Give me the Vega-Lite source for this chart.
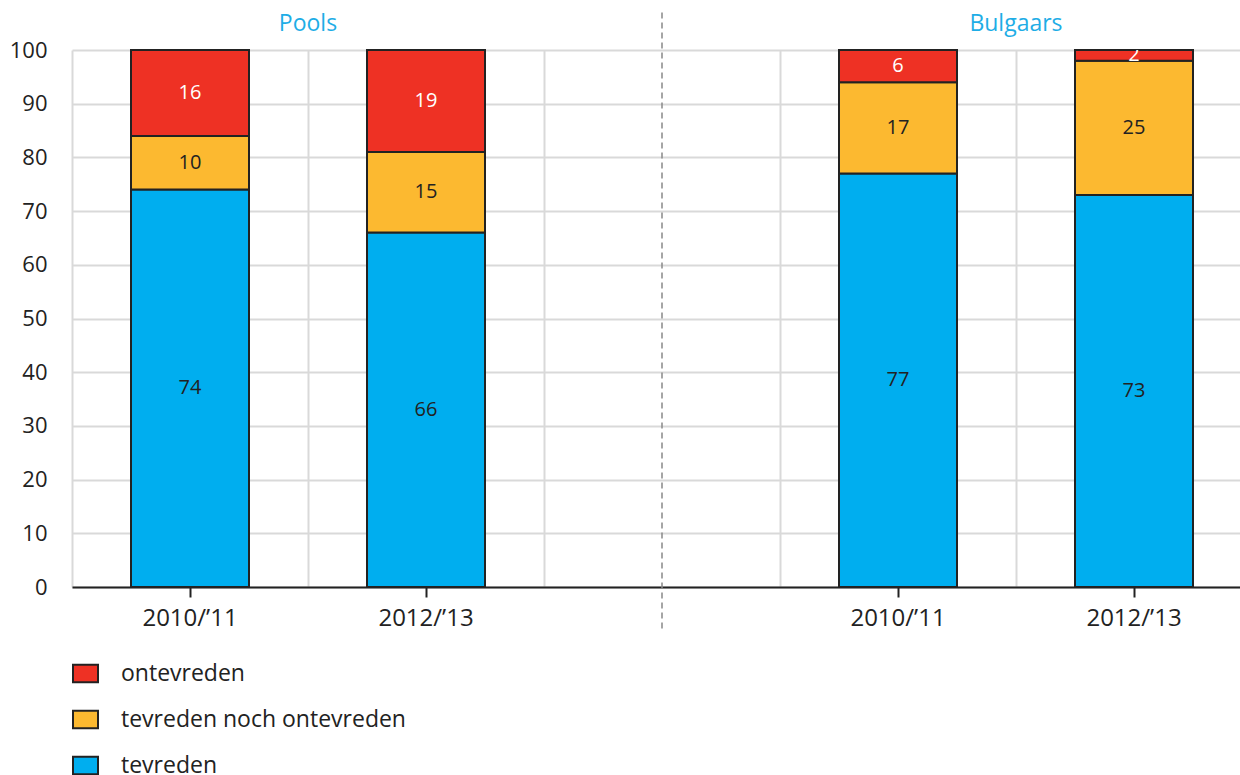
{
  "$schema": "https://vega.github.io/schema/vega-lite/v6.json",
  "width": 1168,
  "height": 537,
  "autosize": "none",
  "padding": {"left": 72, "top": 50, "right": 0, "bottom": 188},
  "background": "white",
  "config": {"font": "Open Sans", "view": {"stroke": null}},
  "datasets": {
    "answers": [
      {"slot": "Pools|2010/’11", "answer": "tevreden", "k": 0, "value": 74},
      {"slot": "Pools|2010/’11", "answer": "tevreden noch ontevreden", "k": 1, "value": 10},
      {"slot": "Pools|2010/’11", "answer": "ontevreden", "k": 2, "value": 16},
      {"slot": "Pools|2012/’13", "answer": "tevreden", "k": 0, "value": 66},
      {"slot": "Pools|2012/’13", "answer": "tevreden noch ontevreden", "k": 1, "value": 15},
      {"slot": "Pools|2012/’13", "answer": "ontevreden", "k": 2, "value": 19},
      {"slot": "Bulgaars|2010/’11", "answer": "tevreden", "k": 0, "value": 77},
      {"slot": "Bulgaars|2010/’11", "answer": "tevreden noch ontevreden", "k": 1, "value": 17},
      {"slot": "Bulgaars|2010/’11", "answer": "ontevreden", "k": 2, "value": 6},
      {"slot": "Bulgaars|2012/’13", "answer": "tevreden", "k": 0, "value": 73},
      {"slot": "Bulgaars|2012/’13", "answer": "tevreden noch ontevreden", "k": 1, "value": 25},
      {"slot": "Bulgaars|2012/’13", "answer": "ontevreden", "k": 2, "value": 2}
    ],
    "groups": [
      {"slot": "Pools|2012/’13", "name": "Pools"},
      {"slot": "Bulgaars|2012/’13", "name": "Bulgaars"}
    ]
  },
  "resolve": {"axis": {"x": "independent"}},
  "layer": [
    {
      "data": {"name": "answers"},
      "mark": {"type": "bar", "width": {"band": 0.5}, "stroke": "#222", "strokeWidth": 2},
      "encoding": {
        "x": {
          "field": "slot", "type": "nominal",
          "scale": {"domain": ["Pools|2010/’11", "Pools|2012/’13", "gap", "Bulgaars|2010/’11", "Bulgaars|2012/’13"], "range": [0, 1180], "paddingInner": 0, "paddingOuter": 0},
          "axis": {"orient": "bottom", "title": null, "labels": false, "ticks": false, "grid": true, "bandPosition": 0, "gridColor": "#d9d9d9", "gridWidth": 2, "domain": true, "domainColor": "#222", "domainWidth": 2, "zindex": 0}
        },
        "y": {
          "field": "value", "type": "quantitative", "stack": "zero",
          "scale": {"domain": [0, 100], "nice": false},
          "axis": {"title": null, "orient": "left", "values": [0, 10, 20, 30, 40, 50, 60, 70, 80, 90, 100], "ticks": false, "domain": false, "grid": true, "gridColor": "#d9d9d9", "gridWidth": 2, "labelPadding": 25, "labelFontSize": 22, "labelColor": "#222", "labelFont": "Open Sans", "zindex": 0}
        },
        "order": {"field": "k", "type": "quantitative"},
        "color": {
          "field": "answer", "type": "nominal",
          "scale": {"domain": ["ontevreden", "tevreden noch ontevreden", "tevreden"], "range": ["#ee3124", "#fcb930", "#00aeef"]},
          "legend": {
            "orient": "none", "legendX": 0, "legendY": 610, "title": null, "padding": 0,
            "symbolType": "M-1,-0.7H1V0.7H-1Z", "symbolSize": 625, "symbolStrokeColor": "#222", "symbolStrokeWidth": 2, "symbolOpacity": 1,
            "labelFontSize": 23, "labelColor": "#222", "labelFont": "Open Sans", "labelOffset": 22, "labelLimit": 500, "rowPadding": 19
          }
        }
      }
    },
    {
      "data": {"name": "answers"},
      "transform": [
        {"stack": "value", "groupby": ["slot"], "sort": [{"field": "k"}], "as": ["y0", "y1"]},
        {"fold": ["y0", "y1"], "as": ["edge", "edgeValue"]},
        {"aggregate": [{"op": "mean", "field": "edgeValue", "as": "mid"}], "groupby": ["slot", "answer", "value"]}
      ],
      "mark": {"type": "text", "fontSize": 20, "baseline": "middle", "align": "center", "clip": true},
      "encoding": {
        "x": {
          "field": "slot", "type": "nominal",
          "axis": {"orient": "bottom", "title": null, "values": ["Pools|2010/’11", "Pools|2012/’13", "Bulgaars|2010/’11", "Bulgaars|2012/’13"], "labelExpr": "split(datum.value, '|')[1]", "grid": false, "domain": false, "ticks": true, "tickSize": 10, "tickColor": "#222", "tickWidth": 2, "labelPadding": 9, "labelFontSize": 24, "labelColor": "#222", "labelFont": "Open Sans", "labelAngle": 0}
        },
        "y": {"field": "mid", "type": "quantitative"},
        "text": {"field": "value", "type": "quantitative"},
        "color": {"condition": {"test": "datum.answer === 'ontevreden'", "value": "white"}, "value": "#222"}
      }
    },
    {
      "data": {"name": "groups"},
      "mark": {"type": "text", "fontSize": 23, "baseline": "middle", "align": "center", "color": "#1eade6"},
      "encoding": {
        "x": {"field": "slot", "type": "nominal", "bandPosition": 0, "axis": null},
        "y": {"datum": 104.8, "type": "quantitative"},
        "text": {"field": "name"}
      }
    },
    {
      "data": {"values": [{}]},
      "mark": {"type": "rule", "color": "#888", "strokeWidth": 1.5, "strokeDash": [6, 4]},
      "encoding": {
        "x": {"datum": "gap", "type": "nominal", "axis": null},
        "y": {"datum": 107, "type": "quantitative"},
        "y2": {"datum": -8}
      }
    }
  ]
}
